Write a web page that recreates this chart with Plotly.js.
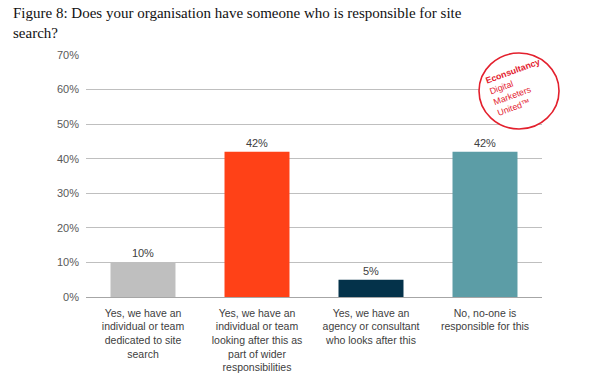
<!DOCTYPE html>
<html><head><meta charset="utf-8">
<script src="https://cdn.plot.ly/plotly-3.0.1.min.js"></script>
<style>body{margin:0;background:#fff}#c{width:591px;height:383px}</style>
</head><body><div id="c"></div>
<script>
const categories = [
  "Yes, we have an<br>individual or team<br>dedicated to site<br>search",
  "Yes, we have an<br>individual or team<br>looking after this as<br>part of wider<br>responsibilities",
  "Yes, we have an<br>agency or consultant<br>who looks after this",
  "No, no-one is<br>responsible for this"
];
const values = [10, 42, 5, 42];
const valueLabels = ["10%", "42%", "5%", "42%"];
const barColors = ["#bfbfbf", "#ff4117", "#04324a", "#5c9da6"];
const yTickVals = [0, 10, 20, 30, 40, 50, 60, 70];
const yTickText = ["0%", "10%", "20%", "30%", "40%", "50%", "60%", "70%"];
const titleText = "Figure 8: Does your organisation have someone who is responsible for site<br>search?";

const trace = {
  type: "bar",
  x: [0, 1, 2, 3],
  y: values,
  width: 0.57,
  marker: {color: barColors},
  text: valueLabels,
  textposition: "outside",
  textfont: {family: "Liberation Sans, Arial", size: 11, color: "#404040"},
  cliponaxis: false,
  hoverinfo: "skip"
};

const layout = {
  width: 591, height: 383,
  margin: {l: 86, r: 49, t: 55, b: 86},
  paper_bgcolor: "#fff", plot_bgcolor: "#fff",
  showlegend: false,
  font: {family: "Liberation Sans, Arial", size: 11, color: "#404040"},
  xaxis: {
    range: [-0.5, 3.5],
    tickvals: [0, 1, 2, 3], ticktext: categories,
    showgrid: false, zeroline: false,
    showline: true, linecolor: "#a6a6a6", linewidth: 1,
    ticks: "", ticklabelstandoff: 6,
    tickfont: {family: "Liberation Sans, Arial", size: 10.5, color: "#404040"}
  },
  yaxis: {
    range: [0, 70],
    tickvals: yTickVals, ticktext: yTickText,
    showgrid: true, gridcolor: "#bfbfbf", gridwidth: 1,
    zeroline: false, showline: false,
    ticks: "", ticklabelstandoff: 6,
    tickfont: {family: "Liberation Sans, Arial", size: 11, color: "#595959"}
  },
  shapes: [{
    type: "circle", layer: "above",
    xref: "paper", yref: "paper",
    xsizemode: "pixel", ysizemode: "pixel",
    xanchor: 0.9496, yanchor: 0.851,
    x0: -40, x1: 40, y0: -38, y1: 38,
    fillcolor: "#ffffff",
    line: {color: "#e3202d", width: 1.6}
  }],
  annotations: [{
    xref: "paper", yref: "paper", x: 0, y: 1,
    xanchor: "left", yanchor: "bottom",
    xshift: -75, yshift: 12,
    showarrow: false, align: "left",
    text: titleText,
    font: {family: "Liberation Serif", size: 15, color: "#111"}
  }, {
    xref: "paper", yref: "paper", x: 0.949, y: 0.868,
    xanchor: "center", yanchor: "middle",
    showarrow: false, textangle: -20, align: "left",
    text: "<b>Econsultancy</b><br>Digital<br>Marketers<br>United™",
    font: {family: "Liberation Sans, Arial", size: 8.8, color: "#e3202d"}
  }]
};

Plotly.newPlot("c", [trace], layout, {staticPlot: true, displayModeBar: false});
</script></body></html>
